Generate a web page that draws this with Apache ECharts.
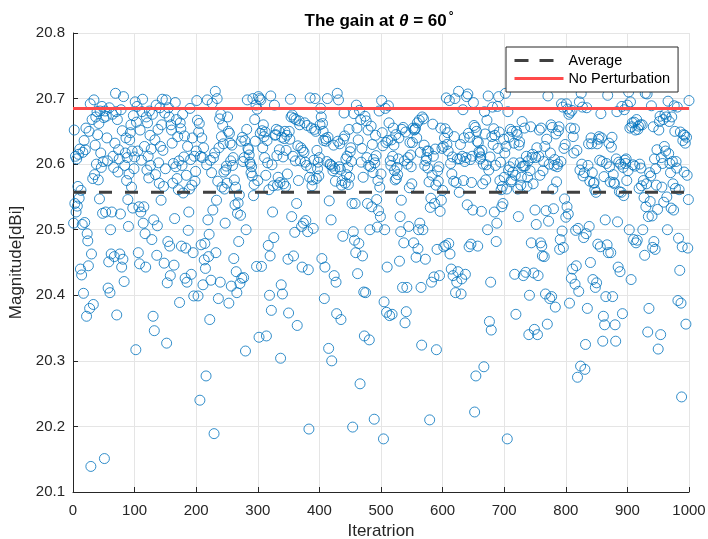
<!DOCTYPE html>
<html>
<head>
<meta charset="utf-8">
<script src="https://cdn.jsdelivr.net/npm/echarts@6/dist/echarts.min.js"></script>
<style>
  html, body { margin: 0; padding: 0; background: #fff; }
  #chart { width: 708px; height: 539px; }
</style>
</head>
<body>
<div id="chart"></div>
<script>
// Gain magnitude (dBi) for each perturbation iteration, in blocks of 50.
const gain001 = [20.510,20.652,20.540,20.612,20.527,20.608,20.536,20.566,20.615,20.548,20.623,20.440,20.560,20.431,20.508,20.618,20.403,20.636,20.511,20.622,20.655,20.368,20.494,20.483,20.445,20.650,20.380,20.692,20.139,20.463,20.668,20.578,20.386,20.698,20.584,20.629,20.672,20.600,20.680,20.645,20.576,20.662,20.547,20.681,20.617,20.595,20.688,20.525,20.604,20.671];
const gain051 = [20.151,20.681,20.527,20.673,20.640,20.605,20.411,20.451,20.686,20.404,20.500,20.463,20.527,20.676,20.612,20.595,20.459,20.632,20.708,20.680,20.370,20.668,20.588,20.622,20.608,20.463,20.524,20.683,20.443,20.651,20.455,20.703,20.421,20.598,20.617,20.640,20.575,20.610,20.546,20.505,20.585,20.637,20.648,20.660,20.565,20.620,20.533,20.674,20.593,20.611];
const gain101 = [20.695,20.317,20.664,20.688,20.620,20.465,20.535,20.448,20.652,20.527,20.606,20.680,20.699,20.510,20.535,20.627,20.494,20.443,20.672,20.591,20.663,20.612,20.579,20.681,20.644,20.598,20.623,20.485,20.676,20.368,20.515,20.346,20.637,20.584,20.690,20.461,20.506,20.653,20.602,20.571,20.686,20.627,20.545,20.660,20.699,20.621,20.566,20.449,20.678,20.593];
const gain151 = [20.698,20.327,20.419,20.482,20.686,20.672,20.475,20.430,20.660,20.652,20.632,20.571,20.601,20.446,20.517,20.694,20.596,20.668,20.578,20.642,20.561,20.605,20.389,20.663,20.654,20.475,20.598,20.676,20.556,20.611,20.643,20.426,20.472,20.583,20.420,20.627,20.499,20.527,20.562,20.685,20.607,20.432,20.568,20.640,20.465,20.399,20.612,20.574,20.589,20.620];
const gain201 = [20.697,20.667,20.399,20.649,20.662,20.240,20.612,20.477,20.640,20.610,20.416,20.625,20.454,20.479,20.441,20.277,20.599,20.698,20.515,20.459,20.493,20.363,20.606,20.423,20.587,20.693,20.530,20.610,20.189,20.617,20.711,20.465,20.545,20.700,20.574,20.395,20.625,20.669,20.420,20.676,20.642,20.565,20.659,20.631,20.588,20.562,20.510,20.591,20.597,20.571];
const gain251 = [20.672,20.650,20.388,20.647,20.632,20.605,20.414,20.629,20.598,20.610,20.456,20.576,20.538,20.565,20.436,20.404,20.525,20.541,20.482,20.553,20.418,20.522,20.635,20.426,20.641,20.604,20.427,20.610,20.636,20.315,20.500,20.653,20.698,20.624,20.622,20.614,20.603,20.600,20.587,20.596,20.582,20.700,20.552,20.569,20.668,20.635,20.690,20.444,20.684,20.575];
const gain301 = [20.703,20.336,20.700,20.647,20.698,20.444,20.651,20.625,20.660,20.642,20.610,20.649,20.583,20.338,20.636,20.602,20.476,20.561,20.400,20.460,20.704,20.377,20.599,20.527,20.567,20.488,20.690,20.644,20.645,20.653,20.613,20.568,20.580,20.651,20.622,20.572,20.304,20.416,20.641,20.402,20.611,20.570,20.639,20.650,20.566,20.621,20.644,20.585,20.455,20.373];
const gain351 = [20.650,20.638,20.699,20.672,20.520,20.675,20.612,20.460,20.670,20.496,20.605,20.668,20.540,20.354,20.628,20.575,20.666,20.660,20.605,20.625,20.505,20.443,20.621,20.510,20.618,20.663,20.603,20.514,20.598,20.659,20.497,20.439,20.196,20.580,20.701,20.594,20.655,20.567,20.576,20.502,20.606,20.653,20.700,20.650,20.578,20.621,20.593,20.603,20.582,20.610];
const gain401 = [20.660,20.685,20.672,20.456,20.662,20.650,20.636,20.395,20.443,20.639,20.635,20.604,20.700,20.641,20.319,20.544,20.600,20.599,20.515,20.300,20.597,20.590,20.629,20.430,20.593,20.574,20.420,20.372,20.708,20.635,20.698,20.596,20.631,20.592,20.363,20.568,20.575,20.490,20.638,20.678,20.643,20.571,20.608,20.584,20.612,20.595,20.569,20.653,20.580,20.619];
const gain451 = [20.625,20.604,20.540,20.199,20.497,20.677,20.484,20.540,20.465,20.690,20.655,20.433,20.637,20.479,20.682,20.265,20.668,20.603,20.624,20.460,20.580,20.405,20.338,20.673,20.404,20.666,20.610,20.540,20.652,20.598,20.332,20.500,20.596,20.658,20.535,20.630,20.587,20.607,20.211,20.602,20.644,20.613,20.546,20.504,20.575,20.529,20.681,20.565,20.520,20.585];
const gain501 = [20.697,20.648,20.628,20.181,20.390,20.500,20.685,20.633,20.374,20.443,20.636,20.689,20.663,20.369,20.605,20.598,20.637,20.371,20.612,20.655,20.629,20.590,20.576,20.645,20.578,20.595,20.584,20.608,20.640,20.452,20.520,20.497,20.545,20.653,20.412,20.656,20.480,20.605,20.358,20.649,20.375,20.412,20.600,20.610,20.505,20.564,20.633,20.614,20.596,20.570];
const gain551 = [20.633,20.655,20.480,20.652,20.653,20.655,20.458,20.640,20.663,20.471,20.500,20.667,20.510,20.618,20.412,20.324,20.672,20.500,20.669,20.629,20.598,20.455,20.605,20.610,20.620,20.594,20.620,20.573,20.210,20.534,20.548,20.420,20.583,20.661,20.612,20.428,20.540,20.623,20.568,20.317,20.470,20.590,20.574,20.596,20.430,20.528,20.655,20.545,20.624,20.560];
const gain601 = [20.627,20.474,20.640,20.654,20.476,20.701,20.630,20.648,20.620,20.479,20.697,20.463,20.601,20.440,20.585,20.611,20.430,20.574,20.642,20.700,20.404,20.572,20.420,20.608,20.436,20.711,20.557,20.608,20.630,20.402,20.425,20.612,20.683,20.575,20.640,20.604,20.432,20.610,20.703,20.538,20.707,20.647,20.474,20.641,20.607,20.478,20.572,20.612,20.530,20.694];
const gain651 = [20.659,20.222,20.656,20.277,20.650,20.635,20.475,20.633,20.619,20.617,20.608,20.611,20.528,20.621,20.570,20.600,20.291,20.680,20.646,20.576,20.599,20.667,20.500,20.704,20.591,20.360,20.611,20.420,20.347,20.642,20.687,20.630,20.654,20.527,20.644,20.598,20.482,20.510,20.688,20.624,20.703,20.649,20.575,20.603,20.561,20.535,20.566,20.540,20.638,20.580];
const gain701 = [20.617,20.708,20.627,20.562,20.181,20.680,20.591,20.641,20.596,20.653,20.573,20.576,20.650,20.588,20.602,20.632,20.432,20.583,20.371,20.650,20.645,20.562,20.520,20.629,20.634,20.602,20.568,20.580,20.665,20.597,20.430,20.597,20.655,20.597,20.435,20.612,20.566,20.580,20.605,20.340,20.400,20.590,20.657,20.480,20.610,20.615,20.570,20.434,20.348,20.530];
const gain751 = [20.610,20.508,20.625,20.340,20.430,20.612,20.652,20.583,20.480,20.655,20.475,20.460,20.590,20.604,20.459,20.627,20.402,20.529,20.638,20.356,20.704,20.513,20.600,20.395,20.617,20.660,20.398,20.656,20.562,20.532,20.598,20.607,20.382,20.646,20.573,20.596,20.600,20.651,20.657,20.470,20.485,20.604,20.692,20.498,20.687,20.473,20.624,20.547,20.630,20.519];
const gain801 = [20.692,20.535,20.684,20.524,20.676,20.388,20.679,20.655,20.426,20.682,20.440,20.642,20.617,20.654,20.417,20.499,20.445,20.621,20.275,20.502,20.406,20.695,20.591,20.292,20.708,20.600,20.687,20.582,20.488,20.587,20.287,20.325,20.494,20.686,20.380,20.598,20.631,20.505,20.574,20.450,20.640,20.631,20.587,20.424,20.571,20.572,20.561,20.412,20.557,20.419];
const gain851 = [20.631,20.478,20.638,20.642,20.606,20.474,20.677,20.640,20.604,20.330,20.368,20.581,20.355,20.515,20.398,20.601,20.477,20.705,20.465,20.632,20.596,20.573,20.465,20.626,20.641,20.398,20.584,20.572,20.570,20.355,20.330,20.608,20.680,20.512,20.443,20.603,20.558,20.436,20.600,20.557,20.688,20.372,20.595,20.552,20.683,20.606,20.601,20.608,20.575,20.690];
const gain901 = [20.590,20.710,20.500,20.655,20.695,20.424,20.657,20.663,20.599,20.485,20.664,20.597,20.652,20.480,20.668,20.484,20.653,20.658,20.563,20.600,20.660,20.594,20.567,20.660,20.500,20.575,20.549,20.461,20.708,20.535,20.570,20.707,20.344,20.520,20.380,20.587,20.543,20.582,20.689,20.521,20.473,20.657,20.482,20.608,20.470,20.593,20.568,20.622,20.531,20.318];
const gain951 = [20.652,20.665,20.673,20.340,20.610,20.565,20.601,20.668,20.542,20.627,20.676,20.620,20.672,20.550,20.500,20.696,20.616,20.665,20.601,20.587,20.533,20.672,20.604,20.570,20.530,20.689,20.650,20.563,20.604,20.594,20.687,20.392,20.487,20.561,20.438,20.649,20.388,20.245,20.474,20.636,20.645,20.588,20.644,20.632,20.356,20.641,20.583,20.472,20.546,20.697];

// Reference levels
const averageGain = 20.557;
const unperturbedGain = 20.685;

// Axis ranges and ticks
const xTicks = { min: 0, max: 1000, step: 100 };
const yTicks = { min: 20.1, max: 20.8, step: 0.1 };

const gain = [].concat(gain001, gain051, gain101, gain151, gain201, gain251, gain301,
  gain351, gain401, gain451, gain501, gain551, gain601, gain651, gain701, gain751,
  gain801, gain851, gain901, gain951);
const scatterData = gain.map((v, i) => [i + 1, v]);

const FONT = '"Liberation Sans", Arial, Helvetica, sans-serif';
const AX = '#262626';
const AVG_COLOR = '#404040';
const REF_COLOR = '#ff4a4a';

const chart = echarts.init(document.getElementById('chart'), null, { renderer: 'canvas' });
chart.setOption({
  animation: false,
  backgroundColor: '#ffffff',
  textStyle: { fontFamily: FONT },
  title: {
    text: '{a|The gain at }{b|θ}{a| = 60}{c|°}',
    left: 379,
    top: 11,
    padding: 0,
    textAlign: 'center',
    textStyle: {
      rich: {
        a: { fontFamily: FONT, fontSize: 17, fontWeight: 'bold', color: '#000', lineHeight: 20 },
        b: { fontFamily: FONT, fontSize: 17, fontWeight: 'bold', fontStyle: 'italic', color: '#000', lineHeight: 20 },
        c: { fontFamily: FONT, fontSize: 12, color: '#000', verticalAlign: 'top', lineHeight: 10, padding: [0, 0, 0, 2] }
      }
    }
  },
  legend: {
    data: [
      { name: 'Average', lineStyle: { color: AVG_COLOR, width: 3, type: [14, 11] } },
      { name: 'No Perturbation', lineStyle: { color: REF_COLOR, width: 3, type: 'solid' } }
    ],
    orient: 'vertical',
    left: 506,
    top: 47,
    itemWidth: 49,
    itemHeight: 14,
    itemGap: 3,
    padding: [6, 8, 6, 7],
    borderColor: AX,
    borderWidth: 1,
    backgroundColor: '#fff',
    itemStyle: { opacity: 0 },
    textStyle: { fontFamily: FONT, fontSize: 14.5, color: '#000' }
  },
  grid: { left: 73, top: 33, right: 19, bottom: 47, containLabel: false, outerBoundsMode: 'none' },
  xAxis: {
    type: 'value',
    min: xTicks.min, max: xTicks.max, interval: xTicks.step,
    name: 'Iteratrion',
    nameLocation: 'middle',
    nameGap: 30,
    nameTextStyle: { fontFamily: FONT, fontSize: 17, color: AX },
    axisLine: { show: true, lineStyle: { color: AX, width: 1 } },
    axisTick: { show: true, inside: true, length: 5, lineStyle: { color: AX } },
    axisLabel: { fontFamily: FONT, fontSize: 15, color: AX, margin: 11, formatter: v => String(v) },
    splitLine: { show: true, lineStyle: { color: '#e5e5e5', width: 1 } }
  },
  yAxis: {
    type: 'value',
    min: yTicks.min, max: yTicks.max, interval: yTicks.step,
    name: 'Magnitude[dBi]',
    nameLocation: 'middle',
    nameGap: 44,
    nameTextStyle: { fontFamily: FONT, fontSize: 17, color: AX },
    axisLine: { show: true, lineStyle: { color: AX, width: 1 } },
    axisTick: { show: true, inside: true, length: 5, lineStyle: { color: AX } },
    axisLabel: { fontFamily: FONT, fontSize: 15, color: AX, margin: 8, formatter: v => v.toFixed(1) },
    splitLine: { show: true, lineStyle: { color: '#e5e5e5', width: 1 } }
  },
  series: [
    {
      name: 'Gain',
      type: 'scatter',
      data: scatterData,
      symbol: 'circle',
      symbolSize: 10,
      itemStyle: { color: 'rgba(0,0,0,0)', borderColor: '#0072BD', borderWidth: 1 },
      emphasis: { disabled: true },
      z: 2
    },
    {
      name: 'Average',
      type: 'line',
      data: [[xTicks.min, averageGain], [xTicks.max, averageGain]],
      symbol: 'none',
      color: AVG_COLOR,
      lineStyle: { color: AVG_COLOR, width: 3, type: [13, 13] },
      z: 3
    },
    {
      name: 'No Perturbation',
      type: 'line',
      data: [[xTicks.min, unperturbedGain], [xTicks.max, unperturbedGain]],
      symbol: 'none',
      color: REF_COLOR,
      lineStyle: { color: REF_COLOR, width: 3 },
      z: 4
    }
  ]
});
</script>
</body>
</html>
